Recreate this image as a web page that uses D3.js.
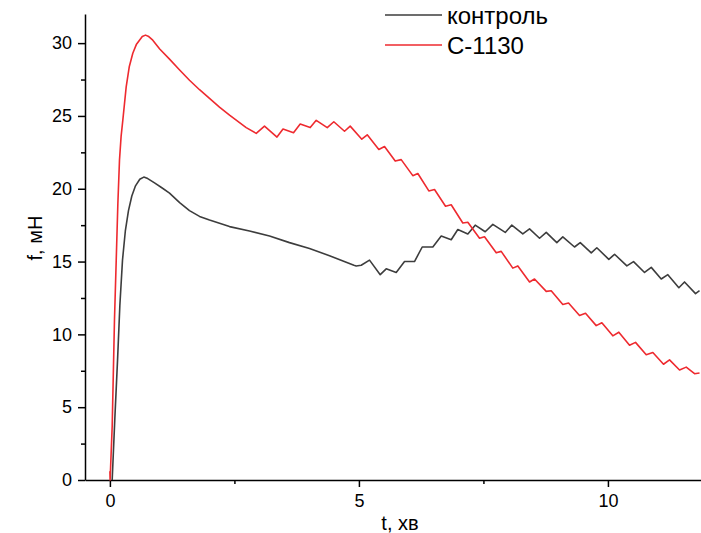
<!DOCTYPE html>
<html>
<head>
<meta charset="utf-8">
<script src="https://cdn.jsdelivr.net/npm/d3@7"></script>
<style>
  body { margin: 0; background: #fff; }
  svg { display: block; font-family: "Liberation Sans", Arial, sans-serif; }
</style>
</head>
<body>
<svg id="chart" width="701" height="533"></svg>
<script>
// контроль
var controlT = [0.046, 0.10, 0.153, 0.20, 0.253, 0.31, 0.373, 0.44, 0.514, 0.60, 0.681, 0.76, 0.896, 1.05, 1.197, 1.40, 1.598, 1.80, 2.0, 2.402, 2.803, 3.205, 3.606, 4.008, 4.410, 4.745, 4.90, 4.946, 5.046, 5.213, 5.428, 5.548, 5.749, 5.916, 6.116, 6.271, 6.484, 6.653, 6.853, 6.986, 7.187, 7.335, 7.536, 7.689, 7.938, 8.070, 8.291, 8.426, 8.627, 8.761, 8.974, 9.094, 9.329, 9.444, 9.665, 9.777, 10.018, 10.133, 10.380, 10.514, 10.735, 10.870, 11.070, 11.203, 11.424, 11.538, 11.759, 11.839]
var controlF = [0, 4.3, 8.2, 12.0, 15.1, 17.1, 18.5, 19.5, 20.2, 20.65, 20.8, 20.7, 20.4, 20.05, 19.7, 19.05, 18.5, 18.1, 17.85, 17.4, 17.1, 16.75, 16.3, 15.9, 15.4, 14.95, 14.75, 14.7, 14.75, 15.1, 14.1, 14.5, 14.25, 15.0, 15.0, 16.0, 16.0, 16.75, 16.5, 17.2, 16.9, 17.5, 17.05, 17.55, 17.0, 17.5, 16.9, 17.25, 16.6, 17.0, 16.3, 16.7, 16.0, 16.3, 15.6, 15.95, 15.15, 15.5, 14.7, 15.0, 14.25, 14.6, 13.8, 14.1, 13.2, 13.6, 12.8, 13.0]

// С-1130
var sampleT = [0, 0.004, 0.046, 0.092, 0.127, 0.16, 0.193, 0.225, 0.259, 0.327, 0.39, 0.460, 0.53, 0.594, 0.65, 0.715, 0.78, 0.861, 1.0, 1.197, 1.40, 1.598, 1.80, 2.0, 2.2, 2.402, 2.737, 2.938, 3.104, 3.355, 3.476, 3.687, 3.821, 4.022, 4.143, 4.364, 4.496, 4.711, 4.825, 5.058, 5.167, 5.400, 5.514, 5.729, 5.849, 6.082, 6.183, 6.404, 6.518, 6.739, 6.853, 7.086, 7.187, 7.422, 7.522, 7.757, 7.857, 8.090, 8.191, 8.426, 8.526, 8.761, 8.861, 9.094, 9.209, 9.430, 9.550, 9.765, 9.878, 10.098, 10.219, 10.434, 10.554, 10.769, 10.902, 11.116, 11.237, 11.438, 11.572, 11.739, 11.839]
var sampleF = [0.6, 0, 3.7, 11.0, 15.1, 19.0, 22.0, 23.6, 24.7, 27.0, 28.4, 29.3, 29.9, 30.2, 30.45, 30.55, 30.45, 30.2, 29.6, 28.9, 28.15, 27.45, 26.8, 26.2, 25.6, 25.05, 24.2, 23.8, 24.3, 23.55, 24.1, 23.85, 24.45, 24.2, 24.7, 24.2, 24.6, 23.95, 24.3, 23.4, 23.7, 22.7, 22.9, 21.9, 22.0, 20.9, 21.05, 19.85, 19.95, 18.8, 18.9, 17.65, 17.7, 16.6, 16.7, 15.6, 15.7, 14.55, 14.7, 13.6, 13.8, 12.95, 13.0, 12.05, 12.15, 11.3, 11.45, 10.6, 10.8, 9.9, 10.15, 9.25, 9.45, 8.6, 8.75, 7.95, 8.25, 7.55, 7.75, 7.3, 7.35]

var seriesNames = ['контроль', 'С-1130']
var seriesColors = ['#3d3d3d', '#ee2a2f']
var xTicks = [0, 5, 10]
var xMinor = [2.5, 7.5]
var yTicks = [0, 5, 10, 15, 20, 25, 30]
var yMinor = [2.5, 7.5, 12.5, 17.5, 22.5, 27.5]

var svg = d3.select('#chart')

var x = d3.scaleLinear().domain([-0.5, 12.17]).range([85, 716])
var y = d3.scaleLinear().domain([0, 32]).range([480, 14])

////////////// AXES //////////////
svg.append('g').attr('transform', 'translate(0,480)')
  .call(d3.axisBottom(x).tickValues(xTicks).tickSize(7).tickSizeOuter(0).tickPadding(7).tickFormat(d3.format('d')))
svg.append('g').attr('transform', 'translate(0,480)')
  .call(d3.axisBottom(x).tickValues(xMinor).tickSize(4).tickSizeOuter(0).tickFormat(''))
  .select('.domain').remove()

svg.append('g').attr('transform', 'translate(85,0)')
  .call(d3.axisLeft(y).tickValues(yTicks).tickSize(7).tickSizeOuter(0).tickPadding(6).tickFormat(d3.format('d')))
svg.append('g').attr('transform', 'translate(85,0)')
  .call(d3.axisLeft(y).tickValues(yMinor).tickSize(4).tickSizeOuter(0).tickFormat(''))
  .select('.domain').remove()

svg.selectAll('.domain, .tick line').attr('stroke', '#000').attr('stroke-width', 1.5)
svg.selectAll('.tick text').attr('font-size', 18).attr('fill', '#000')
  .attr('font-family', '"Liberation Sans", Arial, sans-serif')

svg.append('text').text('t, хв')
  .attr('x', 400).attr('y', 530).attr('text-anchor', 'middle')
  .attr('font-size', 20)
svg.append('text').text('f, мН')
  .attr('transform', 'translate(42,238) rotate(-90)').attr('text-anchor', 'middle')
  .attr('font-size', 20)

////////////// LINES //////////////
var line = d3.line()
  .x(function(d){ return x(d[0]) })
  .y(function(d){ return y(d[1]) })

var series = [d3.zip(controlT, controlF), d3.zip(sampleT, sampleF)]

svg.selectAll('path.series')
  .data(series)
  .enter()
  .append('path')
  .attr('class', 'series')
  .attr('fill', 'none')
  .attr('stroke', function(d, i){ return seriesColors[i] })
  .attr('stroke-width', 1.6)
  .attr('stroke-linejoin', 'round')
  .attr('d', line)

////////////// LEGEND //////////////
var legend = svg.selectAll('g.legend')
  .data(seriesNames)
  .enter()
  .append('g')
  .attr('class', 'legend')
  .attr('transform', function(d, i){ return 'translate(385,' + (15 + i * 30) + ')' })

legend.append('line')
  .attr('x1', 0).attr('x2', 57)
  .attr('stroke', function(d, i){ return seriesColors[i] })
  .attr('stroke-width', 1.5)
legend.append('text')
  .attr('x', 62).attr('y', 9)
  .attr('font-size', 24)
  .text(function(d){ return d })
</script>
</body>
</html>
